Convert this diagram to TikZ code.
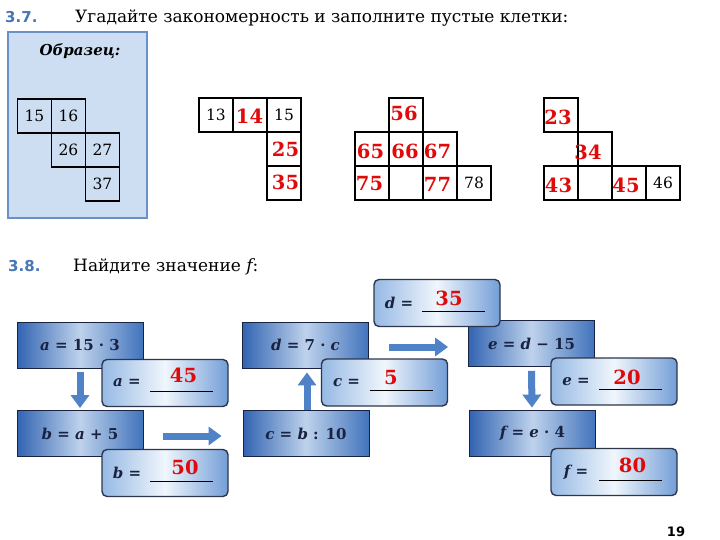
\documentclass[tikz,border=0pt]{standalone}
\usepackage{fontspec}
\setmainfont{DejaVu Serif}
\setsansfont{DejaVu Sans}
\usetikzlibrary{arrows.meta}
\definecolor{numblue}{RGB}{72,118,180}
\definecolor{samplefill}{RGB}{205,222,242}
\definecolor{sampleedge}{RGB}{105,145,200}
\definecolor{boxdark}{RGB}{50,100,178}
\definecolor{boxdarkr}{RGB}{65,115,188}
\definecolor{boxlight}{RGB}{190,210,236}
\definecolor{navy}{RGB}{25,35,65}
\definecolor{ansedge}{RGB}{45,55,75}
\definecolor{ansleft}{RGB}{150,185,228}
\definecolor{ansmid}{RGB}{240,246,252}
\definecolor{ansright}{RGB}{115,158,215}
\definecolor{redtxt}{RGB}{225,10,10}
\definecolor{arrowblue}{RGB}{80,130,200}
\newcommand\myansbox[6]{%
  \node[ans] (#1) at (#2) {};
  \node[anslbl] (#1l) at ([xshift=-38pt]#1.center) {#3};
  \coordinate (#1u1) at ([xshift=-15pt,yshift=-8pt]#1.center);
  \coordinate (#1u2) at ([xshift=48pt,yshift=-8pt]#1.center);
  \draw[uline] (#1u1) -- (#1u2);
  \node[rednum] (#1n) at ([xshift=#5pt,yshift=#6pt]#1.center) {#4};
}
\begin{document}
\begin{tikzpicture}[x=1pt,y=-1pt,
  numlbl/.style={font=\sffamily\bfseries\fontsize{15}{18}\selectfont, text=numblue, anchor=base west, inner sep=0},
  head/.style={font=\fontsize{17}{20}\selectfont, anchor=base west, inner sep=0},
  cell/.style={draw=black, line width=1.3pt, minimum size=34pt, inner sep=0, font=\fontsize{15.5}{18}\selectfont},
  rednum/.style={text=redtxt, font=\bfseries\fontsize{19.5}{22}\selectfont, inner sep=0},
  samplebox/.style={draw=sampleedge, fill=samplefill, line width=1.5pt, minimum width=139pt, minimum height=186pt, inner sep=0},
  calc/.style={draw=navy, line width=0.8pt, minimum width=126pt, minimum height=46pt, inner sep=0,
     left color=boxdark, right color=boxdarkr, middle color=boxlight,
     font=\bfseries\fontsize{15}{18}\selectfont, text=navy},
  ans/.style={draw=ansedge, line width=1.4pt, rounded corners=5pt, minimum width=126pt, minimum height=47pt, inner sep=0,
     left color=ansleft, right color=ansright, middle color=ansmid},
  anslbl/.style={font=\bfseries\fontsize{15}{18}\selectfont, text=navy, inner sep=0},
  uline/.style={draw=black, line width=1pt},
  barrow/.style={draw=arrowblue, line width=7pt, -{Triangle[length=13pt,width=18pt]}},
  pagenum/.style={font=\sffamily\bfseries\fontsize{13}{15}\selectfont, inner sep=0}
]
\useasboundingbox (0,0) rectangle (720,540);
\fill[white] (0,0) rectangle (720,540);

% ---------- 3.7 ----------
\node[numlbl] (n37) at (5,23) {3.7.};
\node[head] (t37) at (75,23) {Угадайте закономерность и заполните пустые клетки:};

\node[samplebox] (sample) at (77.5,125) {};
\node[font=\bfseries\itshape\fontsize{15}{18}\selectfont, inner sep=0] (obr) at (80,51) {Образец:};
\node[cell] (s15) at (34.5,116) {15};
\node[cell] (s16) at (68.5,116) {16};
\node[cell] (s26) at (68.5,150) {26};
\node[cell] (s27) at (102.5,150) {27};
\node[cell] (s37) at (102.5,184) {37};

% puzzle 1
\node[cell] (p13) at (216,115) {13};
\node[cell] (p14) at (250,115) {};
\node[cell] (p15) at (284,115) {15};
\node[cell] (p25) at (284,149) {};
\node[cell] (p35) at (284,183) {};
\node[rednum] (r14) at (249.5,116) {14};
\node[rednum] (r25) at (285.5,149) {25};
\node[rednum] (r35) at (285.5,182.5) {35};

% puzzle 2
\node[cell] (q56) at (406,115) {};
\node[cell] (q65) at (372,149) {};
\node[cell] (q66) at (406,149) {};
\node[cell] (q67) at (440,149) {};
\node[cell] (q75) at (372,183) {};
\node[cell] (q76) at (406,183) {};
\node[cell] (q77) at (440,183) {};
\node[cell] (q78) at (474,183) {78};
\node[rednum] (r56) at (404,113) {56};
\node[rednum] (r65) at (370.5,151) {65};
\node[rednum] (r66) at (405,151) {66};
\node[rednum] (r67) at (437.5,151) {67};
\node[rednum] (r75) at (369.5,184) {75};
\node[rednum] (r77) at (437.5,184) {77};

% puzzle 3
\node[cell] (w23) at (561,115) {};
\node[cell] (w34) at (595,149) {};
\node[cell] (w43) at (561,183) {};
\node[cell] (w44) at (595,183) {};
\node[cell] (w45) at (629,183) {};
\node[cell] (w46) at (663,183) {46};
\node[rednum] (r23) at (558,117) {23};
\node[rednum] (r34) at (588,152) {34};
\node[rednum] (r43) at (558.5,185) {43};
\node[rednum] (r45) at (626,185) {45};

% ---------- 3.8 ----------
\node[numlbl] (n38) at (8,271) {3.8.};
\node[head] (t38) at (73,271) {Найдите значение {\itshape f}:};

\node[calc] (A) at (80,345) {{\itshape a} = 15 · 3};
\node[calc] (B) at (80,433.5) {{\itshape b} = {\itshape a} + 5};
\node[calc] (C) at (306,433.5) {{\itshape c} = {\itshape b} : 10};
\node[calc] (D) at (305.5,345) {{\itshape d} = 7 · {\itshape c}};
\node[calc] (E) at (531.5,343.5) {{\itshape e} = {\itshape d} − 15};
\node[calc] (F) at (532.5,433) {{\itshape f} = {\itshape e} · 4};

\draw[barrow] ([yshift=-4pt]A.south) -- ([yshift=2pt]B.north);
\coordinate (bc1) at ([xshift=20pt,yshift=-2.5pt]B.east);
\coordinate (bc2) at ([xshift=-21pt,yshift=-2.5pt]C.west);
\draw[barrow] (bc1) -- (bc2);
\draw[barrow] ([xshift=1pt]C.north) -- ([xshift=1.5pt,yshift=-4pt]D.south);
\coordinate (de1) at ([xshift=20pt,yshift=-2pt]D.east);
\coordinate (de2) at ([xshift=-20pt,yshift=-3.5pt]E.west);
\draw[barrow] (de1) -- (de2);
\draw[barrow] ([yshift=-4pt]E.south) -- ([xshift=-0.5pt,yshift=2pt]F.north);

\myansbox{Aa}{165,383}{{\itshape a} =}{45}{18.5}{8}
\myansbox{Ba}{165,473}{{\itshape b} =}{50}{20}{6}
\myansbox{Cc}{384.5,382.5}{{\itshape c} =}{5}{6.5}{4.5}
\myansbox{Dd}{437,303}{{\itshape d} =}{35}{12}{5}
\myansbox{Ee}{614,381.5}{{\itshape e} =}{20}{13}{4.5}
\myansbox{Ff}{614,472}{{\itshape f} =}{80}{18.5}{7}

\node[pagenum] (pg) at (676,532) {19};
\end{tikzpicture}
\end{document}
